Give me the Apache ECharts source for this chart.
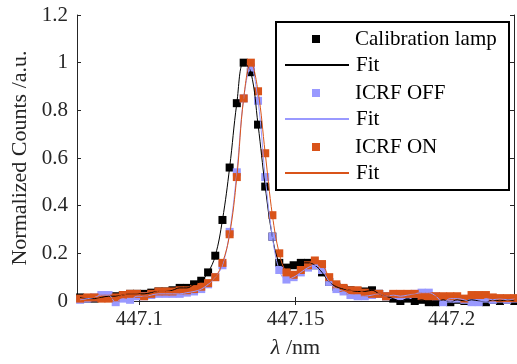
<!DOCTYPE html>
<html>
<head>
<meta charset="utf-8">
<script src="https://cdn.jsdelivr.net/npm/echarts@6/dist/echarts.min.js"></script>
<style>
  html, body { margin: 0; padding: 0; background: #fff; }
  #chart { width: 517px; height: 364px; }
</style>
</head>
<body>
<div id="chart"></div>
<script>
// wavelength grid, nm
const wavelength = [
  447.0810, 447.0833, 447.0856, 447.0878, 447.0901, 447.0924, 447.0947, 447.0970,
  447.0992, 447.1015, 447.1038, 447.1061, 447.1084, 447.1106, 447.1129, 447.1152,
  447.1175, 447.1198, 447.1220, 447.1243, 447.1266, 447.1289, 447.1312, 447.1334,
  447.1357, 447.1380, 447.1403, 447.1426, 447.1448, 447.1471, 447.1494, 447.1517,
  447.1540, 447.1562, 447.1585, 447.1608, 447.1631, 447.1654, 447.1676, 447.1699,
  447.1722, 447.1745, 447.1768, 447.1790, 447.1813, 447.1836, 447.1859, 447.1882,
  447.1904, 447.1927, 447.1950, 447.1973, 447.1996, 447.2018, 447.2041, 447.2064,
  447.2087, 447.2110, 447.2132, 447.2155, 447.2178, 447.2201
];

const lamp = [
  0.015, 0.01, 0.01, 0.015, 0.02, 0.02, 0.025, 0.03, 0.03, 0.03, 0.035, 0.04, 0.04, 0.045, 0.055, 0.055,
  0.07, 0.085, 0.12, 0.19, 0.34, 0.56, 0.83, 1.0, 0.96, 0.74, 0.48, 0.27, 0.16, 0.14, 0.15, 0.16,
  0.16, 0.15, 0.12, 0.08, 0.06, 0.05, 0.045, 0.04, 0.04, 0.045, 0.03, 0.02, 0.01, 0.0, 0.01, 0.0,
  0.005, -0.005, -0.005, 0.005, -0.005, 0.005, 0.0, 0.005, 0.0, -0.005, 0.005, 0.0, 0.005, 0.0
];

const icrfOff = [
  0.005, 0.01, 0.015, 0.025, 0.025, -0.005, 0.01, 0.005, 0.02, 0.02, 0.025, 0.03, 0.03, 0.03, 0.03, 0.035,
  0.04, 0.05, 0.07, 0.10, 0.15, 0.29, 0.54, 0.85, 0.98, 0.84, 0.52, 0.27, 0.13, 0.09, 0.10, 0.12,
  0.14, 0.15, 0.13, 0.08, 0.05, 0.04, 0.025, 0.02, 0.02, 0.025, 0.03, 0.02, 0.025, 0.02, 0.025, 0.03,
  0.035, 0.035, 0.02, -0.005, 0.01, 0.01, 0.005, -0.005, -0.005, 0.01, 0.005, 0.01, 0.005, 0.01
];

const icrfOn = [
  0.01, 0.015, 0.015, 0.01, 0.01, 0.015, 0.025, 0.03, 0.03, 0.02, 0.03, 0.04, 0.04, 0.04, 0.045, 0.045,
  0.05, 0.06, 0.075, 0.10, 0.16, 0.28, 0.52, 0.85, 1.0, 0.88, 0.62, 0.36, 0.20, 0.12, 0.11, 0.13,
  0.15, 0.17, 0.155, 0.10, 0.07, 0.055, 0.045, 0.045, 0.035, 0.03, 0.03, 0.02, 0.03, 0.03, 0.03, 0.03,
  0.02, 0.02, 0.02, 0.02, 0.02, 0.02, 0.01, 0.025, 0.025, 0.025, 0.015, 0.012, 0.012, 0.012
];

const xTicks = [447.1, 447.15, 447.2];

const FONT = 'Liberation Serif';
const AXIS = '#262626';

function pairs(ys) {
    return ys.map((y, i) => [wavelength[i], y]);
}

function markers(name, ys, color) {
    return {
        name: name,
        type: 'scatter',
        data: pairs(ys),
        symbol: 'rect',
        symbolSize: 8,
        clip: false,
        itemStyle: {color: color, opacity: 1},
        z: 2
    };
}

function fit(name, ys, color) {
    return {
        name: name,
        type: 'line',
        data: pairs(ys),
        symbol: 'none',
        smooth: 0.4,
        lineStyle: {color: color, width: 1},
        itemStyle: {color: color},
        z: 3
    };
}

const xBase = {
    type: 'value',
    min: 447.08,
    max: 447.22,
    axisLine: {show: true, lineStyle: {color: AXIS, width: 1}},
    axisTick: {inside: true, length: 4, customValues: xTicks, lineStyle: {color: AXIS}},
    splitLine: {show: false}
};

const yBase = {
    type: 'value',
    min: 0,
    max: 1.2,
    interval: 0.2,
    axisLine: {show: true, lineStyle: {color: AXIS, width: 1}},
    axisTick: {inside: true, length: 4, lineStyle: {color: AXIS}},
    splitLine: {show: false}
};

const option = {
    animation: false,
    backgroundColor: '#fff',
    textStyle: {fontFamily: FONT},
    grid: {left: 77, right: 3, top: 15, bottom: 62, containLabel: false},
    xAxis: [
        {
            ...xBase,
            position: 'bottom',
            axisLabel: {customValues: xTicks, margin: 8, fontFamily: FONT, fontSize: 21, color: AXIS},
            name: '{i|λ} /nm',
            nameLocation: 'middle',
            nameGap: 36,
            nameTextStyle: {
                fontFamily: FONT, fontSize: 22, color: AXIS,
                rich: {i: {fontFamily: FONT, fontSize: 22, fontStyle: 'italic', color: AXIS}}
            }
        },
        {...xBase, position: 'top', axisLabel: {show: false}}
    ],
    yAxis: [
        {
            ...yBase,
            position: 'left',
            axisLabel: {margin: 9, fontFamily: FONT, fontSize: 21, color: AXIS},
            name: 'Normalized Counts /a.u.',
            nameLocation: 'middle',
            nameGap: 44,
            nameTextStyle: {fontFamily: FONT, fontSize: 22, color: AXIS}
        },
        {...yBase, position: 'right', axisLabel: {show: false}}
    ],
    legend: [
        {
            data: ['Calibration lamp', 'ICRF OFF', 'ICRF ON'],
            orient: 'vertical',
            left: 312,
            top: 27,
            padding: 0,
            itemWidth: 8,
            itemHeight: 8,
            itemGap: 30,
            icon: 'rect',
            selectedMode: false,
            textStyle: {fontFamily: FONT, fontSize: 21, lineHeight: 24, color: '#000', padding: [0, 0, 0, 30]}
        },
        {
            data: ['Fit', 'Fit ', 'Fit  '],
            orient: 'vertical',
            left: 284,
            top: 53,
            padding: 0,
            itemWidth: 64,
            itemHeight: 14,
            itemGap: 30,
            selectedMode: false,
            itemStyle: {opacity: 0},
            textStyle: {fontFamily: FONT, fontSize: 21, lineHeight: 24, color: '#000', padding: [0, 0, 0, 2]}
        }
    ],
    graphic: [
        {
            type: 'rect',
            shape: {x: 276, y: 22, width: 233, height: 168},
            style: {fill: '#fff', stroke: '#000', lineWidth: 2},
            z: 3
        }
    ],
    series: [
        markers('Calibration lamp', lamp, '#000000'),
        fit('Fit', lamp, '#000000'),
        markers('ICRF OFF', icrfOff, '#9999ff'),
        fit('Fit ', icrfOff, '#9999ff'),
        markers('ICRF ON', icrfOn, '#d95319'),
        fit('Fit  ', icrfOn, '#d95319')
    ]
};

const myChart = echarts.init(document.getElementById('chart'));
myChart.setOption(option);
</script>
</body>
</html>
